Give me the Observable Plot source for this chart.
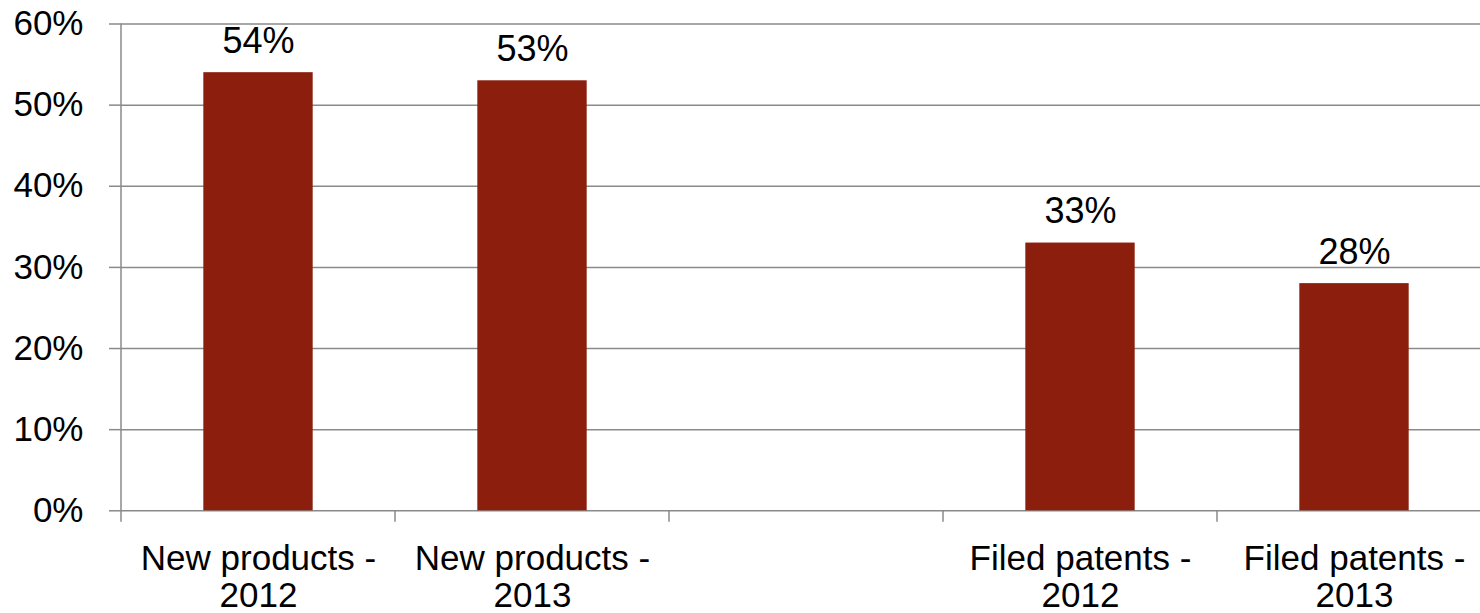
<!DOCTYPE html>
<html>
<head>
<meta charset="utf-8">
<script src="https://cdn.jsdelivr.net/npm/d3@7"></script>
<script src="https://cdn.jsdelivr.net/npm/@observablehq/plot@0.6"></script>
<style>
  html, body { margin: 0; padding: 0; background: #fff; overflow: hidden; }
  #chart svg { display: block; }
</style>
</head>
<body>
<div id="chart"></div>
<script>
// Share of companies reporting new products and filed patents, by year
const categories = ["New products - 2012", "New products - 2013", "", "Filed patents - 2012", "Filed patents - 2013"];
const tickLabels = ["New products -\n2012", "New products -\n2013", "", "Filed patents -\n2012", "Filed patents -\n2013"];
const values = [54, 53, null, 33, 28];
const yTicks = [0, 10, 20, 30, 40, 50, 60];

const data = categories.map((c, i) => ({category: c, label: tickLabels[i], value: values[i]}));
const bars = data.filter(d => d.value != null);

const W = 1480, H = 613;
const marginLeft = 120, marginTop = 23.5, marginBottom = 102.7;
const marginRight = -12; // last band runs slightly past the right edge
const step = (W - marginRight - marginLeft) / categories.length;
const gridColor = "#8a8a8a";
const font = "'Liberation Sans', Arial, sans-serif";

// axis line and category boundary ticks
function frameLines(index, scales) {
  const g = d3.create("svg:g").attr("stroke", gridColor).attr("stroke-width", 1.5);
  const y0 = scales.y(0);
  const yTop = scales.y(60);
  g.append("line")
    .attr("x1", scales.x(categories[0])).attr("x2", scales.x(categories[0]))
    .attr("y1", yTop).attr("y2", y0 + 11.4);
  for (const c of categories.slice(1)) {
    const x = scales.x(c);
    g.append("line").attr("x1", x).attr("x2", x).attr("y1", y0).attr("y2", y0 + 11.4);
  }
  return g.node();
}

const chart = Plot.plot({
  width: W,
  height: H,
  marginLeft, marginRight, marginTop, marginBottom,
  style: {fontFamily: font, background: "#fff", color: "#000"},
  x: {domain: categories, padding: 0, axis: null},
  y: {domain: [0, 60], axis: null},
  marks: [
    Plot.ruleY(yTicks, {y: d => d, stroke: gridColor, strokeWidth: 1.5, strokeOpacity: 1}),
    Plot.axisY({
      ticks: yTicks,
      tickSize: 11,
      tickPadding: 26,
      tickFormat: d => d + "%",
      fontSize: 35,
      stroke: gridColor,
      strokeWidth: 1.5,
      strokeOpacity: 1,
      fill: "#000",
      label: null
    }),
    Plot.barY(bars, {
      x: "category",
      y: "value",
      fill: "#8b1e0d",
      insetLeft: step * 0.3,
      insetRight: step * 0.3
    }),
    frameLines,
    Plot.text(bars, {
      x: "category",
      y: "value",
      text: d => d.value + "%",
      dy: -20,
      lineAnchor: "bottom",
      fontSize: 36,
      fill: "#000"
    }),
    Plot.text(data, {
      x: "category",
      frameAnchor: "bottom",
      text: "label",
      dy: 33,
      lineAnchor: "top",
      lineHeight: 1.05,
      fontSize: 35,
      fill: "#000"
    })
  ]
});

document.getElementById("chart").append(chart);
</script>
</body>
</html>
